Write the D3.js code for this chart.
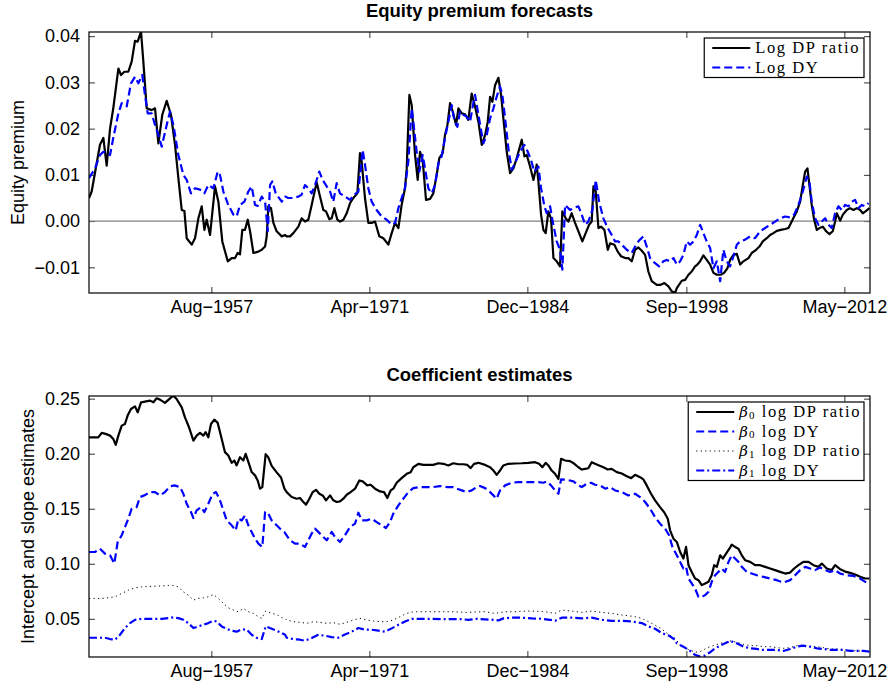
<!DOCTYPE html>
<html>
<head>
<meta charset="utf-8">
<script src="https://cdn.jsdelivr.net/npm/d3@7"></script>
<style>
  body { margin: 0; background: #fff; }
  svg { display: block; }
  .axis text { font-family: 'Liberation Sans', Arial, Helvetica, sans-serif; font-size: 18px; fill: #000; }
  .title { font-family: 'Liberation Sans', Arial, Helvetica, sans-serif; font-size: 18.5px; font-weight: bold; }
  .ylabel { font-family: 'Liberation Sans', Arial, Helvetica, sans-serif; font-size: 18px; }
  .legend text { font-family: 'Liberation Serif', 'DejaVu Serif', serif; font-size: 16.5px; letter-spacing: 1.6px; }
  .legend .beta { font-family: 'DejaVu Serif', serif; font-style: italic; font-size: 15px; letter-spacing: 0; }
</style>
</head>
<body>
<div id="chart"></div>
<script>
// x positions are decimal years (Jan 1947 .. mid 2014)
const dateTicks = [1957.583, 1971.25, 1984.917, 1998.667, 2012.333];
const dateTickLabels = ['Aug\u22121957', 'Apr\u22121971', 'Dec\u22121984', 'Sep\u22121998', 'May\u22122012'];
const premiumTicks = [-0.01, 0, 0.01, 0.02, 0.03, 0.04];
const coefTicks = [0.05, 0.10, 0.15, 0.20, 0.25];

// ---- Equity premium forecasts ----
const dpYears = [1947.00,1947.23,1947.95,1948.24,1948.53,1948.82,1949.10,1949.54,1949.77,1950.06,1950.40,1950.69,1950.98,1951.21,1951.50,1951.70,1951.99,1952.42,1952.71,1953.00,1953.34,1953.72,1954.09,1954.44,1954.73,1955.02,1955.25,1955.45,1955.88,1956.17,1956.46,1956.75,1956.98,1957.18,1957.47,1957.90,1958.19,1958.53,1959.00,1959.34,1959.63,1959.86,1960.06,1960.26,1960.49,1960.73,1960.93,1961.22,1961.65,1961.94,1962.23,1962.37,1962.51,1962.74,1962.95,1963.23,1963.67,1963.96,
  1964.10,1964.39,1964.67,1965.11,1965.39,1965.68,1965.97,1966.26,1966.69,1966.98,1967.27,1967.50,1967.79,1967.99,1968.22,1968.48,1968.71,1969.00,1969.29,1969.58,1969.86,1970.21,1970.44,1970.58,1970.87,1971.16,1971.45,1971.74,1972.11,1972.46,1972.89,1973.18,1973.47,1973.76,1974.04,1974.33,1974.48,1974.71,1974.91,1975.20,1975.43,1975.63,1975.86,1976.15,1976.50,1976.78,1977.07,1977.30,1977.59,1977.79,1978.00,1978.23,1978.46,1978.75,1978.95,1979.24,1979.52,1979.81,1980.10,1980.39,
  1980.68,1980.97,1981.26,1981.49,1981.69,1981.89,1982.12,1982.41,1982.64,1982.84,1983.13,1983.42,1983.71,1983.99,1984.43,1984.66,1984.86,1985.15,1985.44,1985.72,1985.87,1986.10,1986.30,1986.50,1986.73,1986.96,1987.17,1987.45,1987.74,1987.94,1988.23,1988.46,1988.75,1989.04,1989.39,1989.67,1989.96,1990.25,1990.48,1990.63,1990.83,1991.06,1991.29,1991.58,1991.87,1992.07,1992.44,1992.73,1993.02,1993.37,1993.65,1993.94,1994.23,1994.52,1994.81,1995.10,1995.38,1995.67,1996.11,1996.39,1996.77,1997.12,1997.40,1997.69,
  1997.84,1998.27,1998.56,1998.85,1999.13,1999.42,1999.62,1999.86,2000.14,2000.43,2000.72,2001.01,2001.30,2001.64,2001.93,2002.22,2002.45,2002.74,2003.03,2003.32,2003.60,2004.04,2004.32,2004.70,2004.99,2005.28,2005.62,2005.91,2006.20,2006.49,2006.83,2007.21,2007.50,2007.78,2007.99,2008.22,2008.51,2008.74,2008.94,2009.14,2009.31,2009.51,2009.72,2009.95,2010.18,2010.47,2010.76,2011.04,2011.33,2011.53,2011.68,2011.97,2012.20,2012.54,2012.83,2013.12,2013.41,2013.70,2013.93,2014.22,2014.50];
const dpPremium = [.0050,.0064,.0165,.0180,.0120,.0200,.0244,.0330,.0316,.0323,.0323,.0345,.0390,.0388,.0410,.0345,.0244,.0240,.0244,.0168,.0230,.0260,.0230,.0165,.0093,.0024,.0022,-.0037,-.0051,-.0037,.0006,.0032,-.0019,.0003,-.0030,.0075,.0042,-.0044,-.0087,-.0080,-.0080,-.0069,-.0072,-.0019,-.0019,.0003,-.0022,-.0069,-.0066,-.0062,-.0055,-.0033,.0032,.0028,-.0004,-.0022,-.0033,-.0030,
  -.0033,-.0033,-.0026,-.0012,.0006,-.0001,.0003,.0035,.0084,.0053,.0024,.0021,.0004,.0006,.0028,.0003,-.0001,.0003,.0017,.0039,.0050,.0060,.0147,.0129,.0050,-.0004,-.0004,-.0001,-.0033,-.0037,-.0051,-.0026,-.0004,-.0015,.0035,.0071,.0114,.0273,.0251,.0143,.0089,.0150,.0132,.0046,.0048,.0060,.0100,.0136,.0147,.0186,.0208,.0255,.0237,.0208,.0244,.0233,.0231,.0219,.0276,.0248,
  .0215,.0165,.0186,.0215,.0269,.0258,.0294,.0310,.0273,.0222,.0150,.0104,.0114,.0136,.0176,.0140,.0143,.0118,.0089,.0122,.0086,.0014,-.0019,-.0026,.0021,.0006,-.0080,-.0087,-.0098,.0021,.0006,-.0001,.0017,-.0004,-.0026,-.0044,-.0026,-.0008,-.0001,.0075,.0064,-.0015,-.0012,-.0019,-.0062,-.0048,-.0051,-.0066,-.0076,-.0080,-.0080,-.0087,-.0062,-.0057,-.0064,-.0073,-.0109,-.0130,-.0138,-.0138,-.0134,-.0141,-.0152,-.0155,
  -.0145,-.0129,-.0127,-.0116,-.0109,-.0098,-.0094,-.0087,-.0074,-.0084,-.0094,-.0112,-.0116,-.0116,-.0112,-.0102,-.0084,-.0073,-.0071,-.0094,-.0087,-.0080,-.0069,-.0062,-.0055,-.0044,-.0037,-.0030,-.0026,-.0021,-.0019,-.0017,-.0015,-.0001,.0010,.0021,.0042,.0078,.0107,.0114,.0078,.0035,.0003,-.0019,-.0015,-.0012,-.0022,-.0028,-.0022,-.0001,.0017,.0001,.0014,.0024,.0028,.0024,.0028,.0024,.0017,.0022,.0028];

const dyYears = [1947.00,1947.52,1947.95,1948.24,1948.53,1948.82,1949.10,1949.54,1949.83,1950.26,1950.63,1950.98,1951.27,1951.61,1951.84,1952.08,1952.42,1952.71,1953.00,1953.29,1953.72,1954.01,1954.30,1954.73,1955.16,1955.45,1955.82,1956.17,1956.60,1956.98,1957.32,1957.76,1958.13,1958.33,1958.62,1959.05,1959.49,1959.77,1960.06,1960.44,1960.78,1961.07,1961.36,1961.59,1961.94,1962.23,1962.46,1962.66,1962.86,1963.15,1963.67,1963.96,
  1964.24,1964.67,1965.11,1965.39,1965.68,1965.97,1966.26,1966.55,1966.92,1967.21,1967.56,1967.85,1968.13,1968.42,1968.71,1969.14,1969.58,1969.92,1970.30,1970.67,1970.87,1971.16,1971.45,1971.88,1972.31,1972.75,1973.18,1973.47,1973.76,1974.04,1974.33,1974.62,1974.91,1975.05,1975.34,1975.57,1975.86,1976.06,1976.35,1976.64,1976.93,1977.22,1977.50,1977.79,1978.08,1978.37,1978.57,1978.86,1979.09,1979.38,1979.67,1979.96,1980.24,
  1980.39,1980.68,1981.11,1981.40,1981.69,1981.98,1982.26,1982.55,1982.75,1982.99,1983.27,1983.56,1983.91,1984.28,1984.66,1984.95,1985.23,1985.52,1985.87,1986.10,1986.39,1986.59,1986.88,1987.08,1987.45,1987.74,1987.94,1988.18,1988.61,1988.90,1989.33,1989.62,1989.91,1990.19,1990.54,1990.83,1991.12,1991.49,1991.87,1992.21,1992.50,1992.79,1993.08,1993.51,1993.94,1994.38,1994.66,1994.95,1995.24,1995.53,1995.96,1996.31,1996.68,1996.97,1997.26,1997.55,
  1997.84,1998.13,1998.41,1998.70,1998.99,1999.28,1999.57,1999.86,2000.14,2000.43,2000.72,2001.01,2001.30,2001.59,2001.87,2002.16,2002.45,2002.74,2003.03,2003.32,2003.75,2004.18,2004.61,2005.05,2005.48,2005.91,2006.34,2006.78,2007.21,2007.64,2007.99,2008.36,2008.74,2009.08,2009.31,2009.51,2009.80,2010.09,2010.38,2010.67,2010.96,2011.24,2011.53,2011.82,2012.11,2012.40,2012.69,2012.98,2013.26,2013.55,2013.84,2014.13,2014.42];
const dyPremium = [.0093,.0114,.0143,.0150,.0147,.0143,.0180,.0233,.0255,.0248,.0298,.0312,.0298,.0316,.0273,.0233,.0233,.0208,.0187,.0161,.0208,.0237,.0208,.0143,.0100,.0089,.0060,.0071,.0068,.0060,.0078,.0071,.0107,.0100,.0064,.0035,.0014,.0010,.0035,.0042,.0064,.0075,.0035,.0033,.0053,.0042,-.0022,.0078,.0086,.0060,.0042,.0053,
  .0050,.0050,.0053,.0057,.0078,.0071,.0060,.0078,.0107,.0089,.0075,.0064,.0042,.0082,.0060,.0053,.0046,.0057,.0064,.0154,.0122,.0071,.0042,.0024,.0010,.0003,-.0008,-.0004,.0028,.0050,.0071,.0129,.0244,.0215,.0150,.0107,.0143,.0114,.0071,.0060,.0078,.0125,.0140,.0179,.0215,.0251,.0222,.0204,.0237,.0230,.0226,.0215,.0255,
  .0273,.0230,.0168,.0186,.0222,.0244,.0269,.0291,.0273,.0222,.0158,.0111,.0129,.0150,.0165,.0150,.0132,.0107,.0118,.0071,.0032,.0017,.0032,.0003,-.0044,-.0062,-.0105,.0035,.0024,.0028,.0032,.0014,-.0008,-.0001,.0024,.0089,.0042,.0006,-.0015,-.0030,-.0044,-.0044,-.0051,-.0062,-.0069,-.0048,-.0040,-.0033,-.0055,-.0080,-.0091,-.0098,-.0087,-.0084,-.0087,-.0080,
  -.0094,-.0087,-.0073,-.0044,-.0051,-.0044,-.0030,-.0008,-.0026,-.0044,-.0058,-.0102,-.0087,-.0130,-.0062,-.0087,-.0098,-.0076,-.0051,-.0044,-.0040,-.0033,-.0037,-.0022,-.0015,-.0008,-.0001,.0006,.0010,.0008,.0014,.0035,.0064,.0096,.0086,.0042,.0006,-.0008,-.0001,.0006,-.0008,-.0015,.0017,.0032,.0024,.0035,.0032,.0042,.0046,.0028,.0035,.0032,.0039];

// ---- Coefficient estimates ----
const b0dpYears = [1947.00,1947.81,1948.10,1948.44,1948.82,1949.10,1949.31,1949.54,1949.83,1950.11,1950.34,1950.63,1950.98,1951.21,1951.50,1951.84,1952.28,1952.57,1952.85,1953.14,1953.57,1954.01,1954.30,1954.58,1955.02,1955.30,1955.65,1956.03,1956.31,1956.60,1956.89,1957.09,1957.32,1957.55,1957.84,1958.13,1958.48,1958.76,1959.05,1959.34,1959.57,1959.77,1960.06,1960.35,1960.55,1960.84,1961.07,1961.36,1961.59,1961.79,1961.99,1962.28,1962.51,1962.80,1963.23,1963.61,1963.90,
  1964.10,1964.53,1964.96,1965.25,1965.54,1965.77,1966.06,1966.35,1966.63,1966.92,1967.21,1967.50,1967.85,1968.13,1968.42,1968.71,1969.00,1969.29,1969.63,1970.01,1970.38,1970.67,1971.07,1971.36,1971.74,1972.17,1972.52,1972.80,1973.09,1973.32,1973.61,1974.04,1974.48,1974.82,1975.05,1975.49,1975.92,1976.35,1976.78,1977.22,1977.65,1978.08,1978.51,1978.95,1979.38,1979.73,1980.01,1980.30,1980.68,
  1981.26,1981.69,1981.98,1982.26,1982.55,1982.84,1983.27,1983.85,1984.43,1985.00,1985.58,1985.93,1986.21,1986.50,1986.73,1987.02,1987.31,1987.60,1987.83,1988.18,1988.61,1988.98,1989.33,1989.62,1989.91,1990.19,1990.48,1990.77,1991.12,1991.49,1991.87,1992.21,1992.65,1993.08,1993.51,1993.89,1994.23,1994.66,1994.95,1995.24,1995.61,1995.96,1996.39,1996.77,1997.06,1997.26,1997.55,
  1997.84,1998.13,1998.41,1998.64,1998.85,1999.13,1999.42,1999.71,2000.00,2000.29,2000.58,2000.86,2001.07,2001.30,2001.59,2001.82,2002.10,2002.39,2002.59,2002.88,2003.17,2003.46,2003.75,2004.18,2004.61,2005.05,2005.48,2005.91,2006.34,2006.78,2007.21,2007.64,2007.99,2008.36,2008.79,2009.23,2009.66,2010.09,2010.38,2010.81,2011.24,2011.53,2011.97,2012.40,2012.83,2013.26,2013.70,2014.13,2014.50];
const b0dp = [.2149,.2149,.2189,.2180,.2164,.2134,.2080,.2164,.2255,.2270,.2346,.2406,.2430,.2376,.2466,.2473,.2482,.2467,.2503,.2491,.2461,.2503,.2527,.2497,.2421,.2330,.2240,.2119,.2164,.2189,.2164,.2195,.2149,.2270,.2310,.2280,.2134,.2014,.1984,.1917,.1938,.1893,.1968,.1938,.1999,.1908,.1833,.1803,.1757,.1682,.1697,.1996,.1966,.1890,.1830,.1784,.1682,
  .1651,.1606,.1591,.1597,.1561,.1537,.1591,.1651,.1672,.1636,.1621,.1576,.1621,.1576,.1561,.1567,.1591,.1627,.1651,.1682,.1757,.1748,.1712,.1718,.1682,.1657,.1651,.1597,.1666,.1682,.1736,.1778,.1817,.1832,.1877,.1908,.1898,.1898,.1898,.1913,.1908,.1893,.1913,.1904,.1904,.1898,.1869,.1908,.1917,
  .1898,.1877,.1847,.1808,.1847,.1893,.1908,.1911,.1913,.1917,.1923,.1908,.1877,.1917,.1893,.1847,.1817,.1772,.1953,.1938,.1932,.1908,.1877,.1856,.1862,.1868,.1923,.1908,.1893,.1877,.1856,.1862,.1832,.1820,.1795,.1778,.1808,.1787,.1766,.1712,.1636,.1576,.1515,.1464,.1409,.1304,.1228,
  .1198,.1107,.1047,.1153,.0987,.0926,.0866,.0851,.0806,.0821,.0836,.0896,.0987,.0972,.1077,.1047,.1092,.1137,.1174,.1153,.1137,.1077,.1032,.1017,.0987,.0987,.0972,.0957,.0942,.0926,.0911,.0920,.0957,.0987,.1017,.1017,.0987,.0972,.1002,.0957,.0942,.0987,.0951,.0929,.0917,.0902,.0881,.0866,.0866];

const b0dyYears = [1947.00,1947.52,1947.95,1948.38,1948.82,1949.19,1949.48,1949.83,1950.17,1950.40,1950.69,1951.12,1951.41,1951.79,1952.28,1952.71,1953.14,1953.57,1954.01,1954.38,1954.87,1955.16,1955.45,1955.82,1956.03,1956.31,1956.69,1956.98,1957.32,1957.70,1957.99,1958.33,1958.62,1958.91,1959.34,1959.69,1959.92,1960.21,1960.49,1960.78,1961.07,1961.36,1961.65,1961.99,1962.23,1962.51,1962.80,1963.23,1963.67,1963.90,
  1964.39,1964.82,1965.25,1965.68,1965.97,1966.26,1966.55,1966.98,1967.27,1967.56,1967.99,1968.28,1968.71,1969.14,1969.58,1970.01,1970.30,1970.59,1971.02,1971.45,1971.88,1972.31,1972.69,1973.04,1973.32,1973.76,1974.19,1974.62,1975.05,1975.63,1976.21,1976.78,1977.36,1977.94,1978.51,1978.80,1979.24,1979.67,1980.10,1980.53,
  1980.82,1981.26,1981.69,1981.98,1982.26,1982.55,1982.99,1983.56,1984.14,1984.72,1985.29,1985.87,1986.30,1986.59,1986.96,1987.31,1987.60,1987.83,1988.32,1988.90,1989.33,1989.62,1990.05,1990.42,1990.77,1991.20,1991.64,1992.07,1992.50,1993.08,1993.65,1994.23,1994.66,1995.10,1995.53,1995.96,1996.39,1996.83,1997.17,1997.46,
  1997.84,1998.13,1998.41,1998.64,1998.85,1999.13,1999.42,1999.71,2000.00,2000.29,2000.58,2000.86,2001.15,2001.44,2001.73,2002.02,2002.31,2002.59,2002.88,2003.17,2003.46,2003.89,2004.32,2004.76,2005.33,2005.91,2006.49,2007.06,2007.64,2008.07,2008.51,2008.94,2009.37,2009.80,2010.24,2010.67,2011.10,2011.53,2011.97,2012.54,2013.12,2013.70,2014.13,2014.42];
const b0dy = [.1107,.1107,.1137,.1092,.1077,.1002,.1198,.1259,.1349,.1409,.1500,.1515,.1606,.1621,.1651,.1651,.1621,.1651,.1702,.1712,.1697,.1636,.1545,.1470,.1415,.1485,.1515,.1470,.1545,.1636,.1651,.1576,.1485,.1394,.1349,.1303,.1409,.1394,.1439,.1349,.1288,.1228,.1183,.1153,.1470,.1455,.1394,.1349,.1303,.1288,
  .1213,.1183,.1183,.1153,.1213,.1274,.1319,.1274,.1243,.1213,.1289,.1243,.1198,.1259,.1334,.1364,.1464,.1394,.1394,.1409,.1379,.1349,.1325,.1379,.1455,.1530,.1591,.1651,.1687,.1697,.1697,.1697,.1706,.1697,.1697,.1682,.1667,.1651,.1667,.1697,
  .1706,.1687,.1651,.1621,.1591,.1666,.1712,.1736,.1742,.1742,.1742,.1742,.1736,.1748,.1712,.1666,.1636,.1766,.1763,.1748,.1712,.1697,.1727,.1736,.1718,.1712,.1682,.1697,.1666,.1651,.1621,.1636,.1606,.1561,.1500,.1424,.1364,.1319,.1259,.1153,
  .1077,.1017,.0957,.0972,.0866,.0821,.0775,.0700,.0700,.0715,.0745,.0836,.0896,.0926,.0957,.0926,.1017,.1077,.1047,.1017,.0972,.0926,.0911,.0896,.0881,.0866,.0851,.0830,.0851,.0896,.0942,.0972,.0957,.0942,.0966,.0942,.0926,.0942,.0911,.0896,.0890,.0866,.0836,.0821];

const b1dpYears = [1947.00,1948.10,1948.67,1949.25,1949.83,1950.40,1950.98,1951.56,1952.13,1952.71,1953.29,1953.86,1954.30,1954.73,1955.16,1955.59,1956.03,1956.46,1956.89,1957.32,1957.76,1958.19,1958.62,1959.05,1959.49,1959.92,1960.35,1960.78,1961.22,1961.65,1961.94,1962.28,1962.80,1963.23,1963.67,1963.96,
  1964.10,1964.67,1965.25,1965.83,1966.40,1966.98,1967.56,1968.13,1968.71,1969.29,1969.86,1970.44,1971.02,1971.59,1972.17,1972.75,1973.32,1973.90,1974.48,1975.05,1976.21,1977.36,1978.51,1979.67,1980.82,
  1981.26,1982.12,1982.99,1983.85,1984.72,1985.58,1986.45,1987.31,1987.89,1988.75,1989.62,1990.48,1991.35,1992.21,1993.08,1993.65,1994.23,1994.81,1995.38,1995.96,1996.54,1997.12,1997.69,
  1998.13,1998.56,1998.99,1999.42,1999.86,2000.29,2000.72,2001.15,2001.59,2002.02,2002.45,2003.03,2003.60,2004.18,2004.76,2005.33,2005.91,2006.49,2007.06,2007.64,2008.22,2008.79,2009.37,2009.95,2010.52,2011.10,2011.68,2012.26,2012.83,2013.41,2013.99,2014.50];
const b1dp = [.0685,.0685,.0691,.0700,.0730,.0760,.0781,.0790,.0793,.0796,.0799,.0803,.0803,.0790,.0745,.0715,.0670,.0685,.0691,.0700,.0721,.0685,.0640,.0600,.0579,.0564,.0594,.0564,.0549,.0519,.0504,.0570,.0549,.0540,.0510,.0504,
  .0489,.0474,.0468,.0459,.0474,.0468,.0459,.0465,.0450,.0468,.0489,.0504,.0489,.0480,.0474,.0474,.0489,.0519,.0549,.0564,.0564,.0564,.0564,.0558,.0564,
  .0564,.0549,.0564,.0564,.0570,.0570,.0564,.0549,.0579,.0570,.0558,.0570,.0558,.0549,.0534,.0528,.0519,.0504,.0474,.0443,.0407,.0358,.0322,
  .0262,.0232,.0217,.0196,.0202,.0226,.0247,.0262,.0277,.0286,.0299,.0286,.0268,.0256,.0256,.0247,.0247,.0238,.0232,.0238,.0256,.0262,.0247,.0247,.0238,.0226,.0226,.0220,.0214,.0208,.0208,.0202];

const b1dyYears = [1947.00,1948.38,1948.82,1949.25,1949.68,1950.11,1950.55,1950.98,1951.56,1952.42,1953.29,1953.86,1954.30,1954.73,1955.16,1955.59,1956.03,1956.46,1956.89,1957.32,1957.76,1958.04,1958.48,1958.91,1959.34,1959.77,1960.21,1960.64,1961.07,1961.50,1961.94,1962.28,1962.80,1963.23,1963.67,1963.96,
  1964.10,1964.67,1965.25,1965.68,1966.26,1966.84,1967.41,1967.99,1968.57,1969.14,1969.72,1970.30,1970.87,1971.45,1972.03,1972.60,1973.18,1973.76,1974.33,1974.91,1976.21,1977.65,1979.09,1979.81,1980.53,
  1981.26,1981.98,1982.41,1982.84,1983.56,1984.43,1985.29,1986.16,1986.88,1987.31,1987.89,1988.75,1989.62,1990.48,1991.35,1992.21,1993.08,1993.94,1994.81,1995.38,1995.96,1996.54,1997.12,1997.69,
  1997.84,1998.41,1998.99,1999.42,1999.86,2000.29,2000.72,2001.15,2001.59,2002.02,2002.45,2003.03,2003.60,2004.18,2004.76,2005.33,2005.91,2006.49,2007.06,2007.64,2008.22,2008.79,2009.37,2009.95,2010.52,2011.10,2011.68,2012.26,2012.83,2013.41,2013.99,2014.50];
const b1dy = [.0328,.0328,.0316,.0310,.0355,.0416,.0461,.0491,.0500,.0500,.0500,.0506,.0513,.0506,.0491,.0461,.0416,.0431,.0446,.0461,.0482,.0476,.0431,.0410,.0392,.0383,.0404,.0401,.0355,.0328,.0316,.0431,.0410,.0392,.0370,.0355,
  .0328,.0316,.0310,.0301,.0325,.0355,.0346,.0334,.0328,.0358,.0383,.0416,.0401,.0401,.0392,.0383,.0413,.0446,.0476,.0500,.0500,.0497,.0497,.0491,.0500,
  .0495,.0491,.0485,.0504,.0510,.0510,.0504,.0500,.0491,.0482,.0510,.0510,.0504,.0510,.0491,.0482,.0482,.0476,.0461,.0431,.0410,.0370,.0349,.0310,
  .0277,.0247,.0208,.0172,.0157,.0166,.0196,.0232,.0256,.0277,.0299,.0277,.0247,.0232,.0226,.0217,.0217,.0217,.0208,.0226,.0247,.0256,.0247,.0232,.0226,.0217,.0217,.0217,.0208,.0208,.0208,.0202];

const width = 893;
const height = 689;
const plotLeft = 89;
const plotRight = 870;
const xDomain = [1947.0, 2014.55];

const svg = d3.select('#chart')
  .append('svg')
    .attr('width', width)
    .attr('height', height)
    .attr('viewBox', `0 0 ${width} ${height}`);

const x = d3.scaleLinear().domain(xDomain).range([plotLeft, plotRight]);

function drawPanel(opts) {
  const { id, top, bottom, yDomain, yTicks, title, ylabel, ylabelX, series, legend, zeroLine } = opts;
  const y = d3.scaleLinear().domain(yDomain).range([bottom, top]);
  const g = svg.append('g');

  g.append('clipPath')
    .attr('id', `clip-${id}`)
    .append('rect')
      .attr('x', plotLeft)
      .attr('y', top)
      .attr('width', plotRight - plotLeft)
      .attr('height', bottom - top);

  // axes, ticks pointing inside on all four sides
  const axisB = d3.axisBottom(x).tickValues(dateTicks)
    .tickFormat((d, i) => dateTickLabels[i]).tickSizeInner(-6).tickSizeOuter(0).tickPadding(7);
  const axisT = d3.axisTop(x).tickValues(dateTicks).tickFormat('').tickSizeInner(-6).tickSizeOuter(0);
  const axisL = d3.axisLeft(y).tickValues(yTicks).tickFormat(d3.format('.2f'))
    .tickSizeInner(-6).tickSizeOuter(0).tickPadding(9);
  const axisR = d3.axisRight(y).tickValues(yTicks).tickFormat('').tickSizeInner(-6).tickSizeOuter(0);

  [[axisB, `translate(0,${bottom})`], [axisT, `translate(0,${top})`],
   [axisL, `translate(${plotLeft},0)`], [axisR, `translate(${plotRight},0)`]].forEach(([ax, tr]) => {
    const a = g.append('g').attr('class', 'axis').attr('transform', tr).call(ax);
    a.attr('font-size', null).attr('font-family', null);
    a.select('.domain').remove();
    a.selectAll('.tick line').attr('stroke', '#000').attr('stroke-width', 0.8);
  });

  if (zeroLine) {
    g.append('line')
      .attr('x1', plotLeft).attr('x2', plotRight)
      .attr('y1', y(0)).attr('y2', y(0))
      .attr('stroke', '#7f7f7f')
      .attr('stroke-width', 1.2);
  }

  const line = d3.line().x(d => x(d[0])).y(d => y(d[1]));
  g.append('g')
    .attr('clip-path', `url(#clip-${id})`)
    .selectAll('path')
    .data(series)
    .join('path')
      .attr('d', s => line(d3.zip(s.years, s.values)))
      .attr('fill', 'none')
      .attr('stroke', s => s.color)
      .attr('stroke-width', s => s.width)
      .attr('stroke-dasharray', s => s.dash)
      .attr('stroke-linejoin', 'round');

  // frame
  g.append('rect')
    .attr('x', plotLeft)
    .attr('y', top)
    .attr('width', plotRight - plotLeft)
    .attr('height', bottom - top)
    .attr('fill', 'none')
    .attr('stroke', '#000')
    .attr('stroke-width', 1.2);

  g.append('text')
    .attr('class', 'title')
    .attr('x', (plotLeft + plotRight) / 2)
    .attr('y', top - 15)
    .attr('text-anchor', 'middle')
    .text(title);

  g.append('text')
    .attr('class', 'ylabel')
    .attr('transform', `translate(${ylabelX},${(top + bottom) / 2}) rotate(-90)`)
    .attr('text-anchor', 'middle')
    .attr('dy', '0.35em')
    .text(ylabel);

  // legend
  const rowH = 19.5;
  const pad = 10;
  const lg = g.append('g').attr('class', 'legend');
  const box = lg.append('rect')
    .attr('fill', '#fff')
    .attr('stroke', '#000')
    .attr('stroke-width', 1.2);
  const rows = lg.selectAll('g.row')
    .data(series)
    .join('g')
      .attr('class', 'row')
      .attr('transform', (d, i) => `translate(0,${pad + i * rowH})`);
  rows.append('line')
    .attr('x1', 8).attr('x2', 46)
    .attr('stroke', s => s.color)
    .attr('stroke-width', s => s.width)
    .attr('stroke-dasharray', s => s.dash);
  const texts = rows.append('text')
    .attr('x', 51)
    .attr('dy', '0.33em');
  texts.each(function (s, i) {
    const t = d3.select(this);
    const lab = legend[i];
    if (lab.sub !== undefined) {
      t.append('tspan').attr('class', 'beta').text('\u03b2');
      t.append('tspan').style('font-size', '11px').attr('dx', 1).attr('dy', 1.5).text(lab.sub);
      t.append('tspan').attr('dy', -1.5).text(' ' + lab.text);
    } else {
      t.text(lab.text);
    }
  });
  const textW = d3.max(texts.nodes(), n => n.getComputedTextLength());
  const boxW = 51 + textW + 4;
  const boxH = pad * 2 + rowH * (series.length - 1);
  box.attr('width', boxW).attr('height', boxH).attr('y', 0).attr('x', 0);
  lg.attr('transform', `translate(${plotRight - 6 - boxW},${top + 6})`);
}

drawPanel({
  id: 'premium',
  top: 32,
  bottom: 293,
  yDomain: [-0.01555, 0.0409],
  yTicks: premiumTicks,
  title: 'Equity premium forecasts',
  ylabel: 'Equity premium',
  ylabelX: 17.5,
  zeroLine: true,
  series: [
    { years: dpYears, values: dpPremium, color: '#000', width: 2.2, dash: null },
    { years: dyYears, values: dyPremium, color: '#0000ff', width: 2.2, dash: '8,4' },
  ],
  legend: [{ text: 'Log DP ratio' }, { text: 'Log DY' }],
});

drawPanel({
  id: 'coef',
  top: 396,
  bottom: 657,
  yDomain: [0.0153, 0.2524],
  yTicks: coefTicks,
  title: 'Coefficient estimates',
  ylabel: 'Intercept and slope estimates',
  ylabelX: 28,
  zeroLine: false,
  series: [
    { years: b0dpYears, values: b0dp, color: '#000', width: 2.2, dash: null },
    { years: b0dyYears, values: b0dy, color: '#0000ff', width: 2.2, dash: '8,4' },
    { years: b1dpYears, values: b1dp, color: '#000', width: 1, dash: '1.2,3.3' },
    { years: b1dyYears, values: b1dy, color: '#0000ff', width: 2.2, dash: '8,3,2,3' },
  ],
  legend: [
    { sub: '0', text: 'log DP ratio' },
    { sub: '0', text: 'log DY' },
    { sub: '1', text: 'log DP ratio' },
    { sub: '1', text: 'log DY' },
  ],
});
</script>
</body>
</html>
